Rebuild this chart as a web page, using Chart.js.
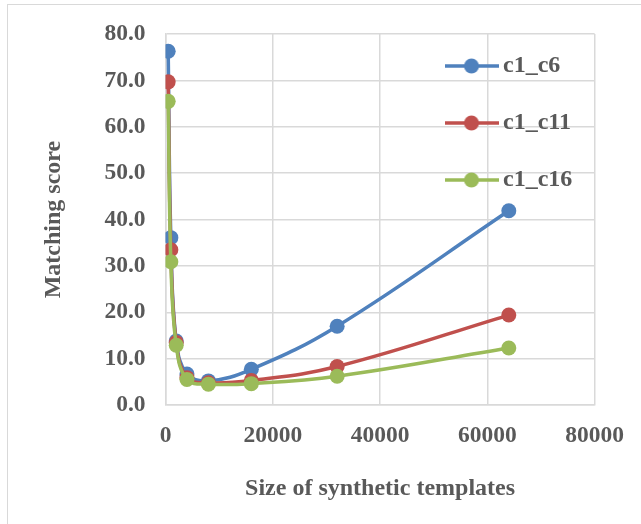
<!DOCTYPE html>
<html>
<head>
<meta charset="utf-8">
<script src="https://cdn.jsdelivr.net/npm/chart.js@4/dist/chart.umd.min.js"></script>
<style>
  body { margin: 0; background: #fff; }
  #cadre { position: relative; width: 641px; height: 524px; overflow: hidden; }
  #bord { position: absolute; left: 7px; top: 4px; width: 700px; height: 600px;
          border-left: 1.5px solid #d9d9d9; border-top: 1.5px solid #d9d9d9; pointer-events: none; }
  canvas { position: absolute; left: 0; top: 0; }
</style>
</head>
<body>
<div id="cadre">
  <canvas id="graphScore" width="641" height="524"></canvas>
  <div id="bord"></div>
</div>
<script>
const tailles = [500, 1000, 2000, 4000, 8000, 16000, 32000, 64000];
const scoreC6 = [76.3, 36.1, 13.8, 6.7, 5.2, 7.7, 17.0, 41.9];
const scoreC11 = [69.7, 33.5, 13.5, 5.9, 4.8, 5.3, 8.3, 19.4];
const scoreC16 = [65.5, 30.9, 12.9, 5.5, 4.5, 4.6, 6.2, 12.3];
const nomsSeries = ['c1_c6', 'c1_c11', 'c1_c16'];
const graduationsX = [0, 20000, 40000, 60000, 80000];
const graduationsY = [0, 10, 20, 30, 40, 50, 60, 70, 80];

const couleurs = ['#4F81BD', '#C0504D', '#9BBB59'];
const police = "'Liberation Serif', 'Times New Roman', serif";
const gris = '#595959';

// petit dessin ligne + rond pour la légende
function marqueurLegende(couleur) {
    const c = document.createElement('canvas');
    c.width = 54;
    c.height = 16;
    const ctx = c.getContext('2d');
    ctx.strokeStyle = couleur;
    ctx.lineWidth = 3.5;
    ctx.beginPath();
    ctx.moveTo(0, 8);
    ctx.lineTo(54, 8);
    ctx.stroke();
    ctx.fillStyle = couleur;
    ctx.beginPath();
    ctx.arc(27, 8, 7.5, 0, 2 * Math.PI);
    ctx.fill();
    return c;
}
const marqueurs = couleurs.map(marqueurLegende);

function serie(nom, valeurs, i) {
    return {
        label: nom,
        data: tailles.map((x, k) => ({ x: x, y: valeurs[k] })),
        borderColor: couleurs[i],
        backgroundColor: couleurs[i],
        borderWidth: 3.5,
        pointRadius: 7.5,
        pointHoverRadius: 7.5,
        pointBorderWidth: 0,
        tension: 0.4,
        order: 2 - i
    };
}

// la légende est posée dans la zone du graphique, en haut à droite
const placerLegende = {
    id: 'placerLegende',
    afterLayout(chart) {
        chart.legend.left = 419;
        chart.legend.top = 21;
    }
};

const ctx = document.getElementById('graphScore').getContext('2d');
new Chart(ctx, {
    type: 'line',
    data: {
        datasets: [
            serie(nomsSeries[0], scoreC6, 0),
            serie(nomsSeries[1], scoreC11, 1),
            serie(nomsSeries[2], scoreC16, 2)
        ]
    },
    plugins: [placerLegende],
    options: {
        responsive: false,
        animation: false,
        layout: { padding: { left: 35, top: 31, right: 45, bottom: 16.6 } },
        plugins: {
            tooltip: { enabled: false },
            legend: {
                position: 'chartArea',
                align: 'start',
                labels: {
                    usePointStyle: true,
                    pointStyleWidth: 39,
                    padding: 33,
                    color: gris,
                    font: { family: police, size: 24, weight: 'bold' },
                    generateLabels: chart => chart.data.datasets.map((ds, i) => ({
                        text: ds.label,
                        pointStyle: marqueurs[i],
                        fillStyle: ds.borderColor,
                        strokeStyle: ds.borderColor,
                        lineWidth: 0,
                        fontColor: gris,
                        hidden: false,
                        datasetIndex: i
                    }))
                }
            }
        },
        scales: {
            x: {
                type: 'linear',
                min: 0,
                max: 80000,
                afterBuildTicks: scale => { scale.ticks = graduationsX.map(v => ({ value: v })); },
                afterFit: scale => { scale.height = 102.4; },
                grid: { color: '#d9d9d9', lineWidth: 1.5, drawTicks: false },
                border: { color: '#d9d9d9', width: 1.5 },
                ticks: {
                    padding: 17,
                    maxRotation: 0,
                    color: gris,
                    font: { family: police, size: 23.5, weight: 'bold' },
                    callback: v => String(v)
                },
                title: {
                    display: true,
                    text: 'Size of synthetic templates',
                    color: gris,
                    font: { family: police, size: 24, weight: 'bold' }
                }
            },
            y: {
                min: 0,
                max: 80,
                afterBuildTicks: scale => { scale.ticks = graduationsY.map(v => ({ value: v })); },
                afterFit: scale => { scale.width = 130.5; },
                grid: { color: '#d9d9d9', lineWidth: 1.5, drawTicks: false },
                border: { color: '#d9d9d9', width: 1.5 },
                ticks: {
                    padding: 20,
                    color: gris,
                    font: { family: police, size: 23.5, weight: 'bold' },
                    callback: v => v.toFixed(1)
                },
                title: {
                    display: true,
                    text: 'Matching score',
                    color: gris,
                    font: { family: police, size: 24, weight: 'bold' }
                }
            }
        }
    }
});
</script>
</body>
</html>
